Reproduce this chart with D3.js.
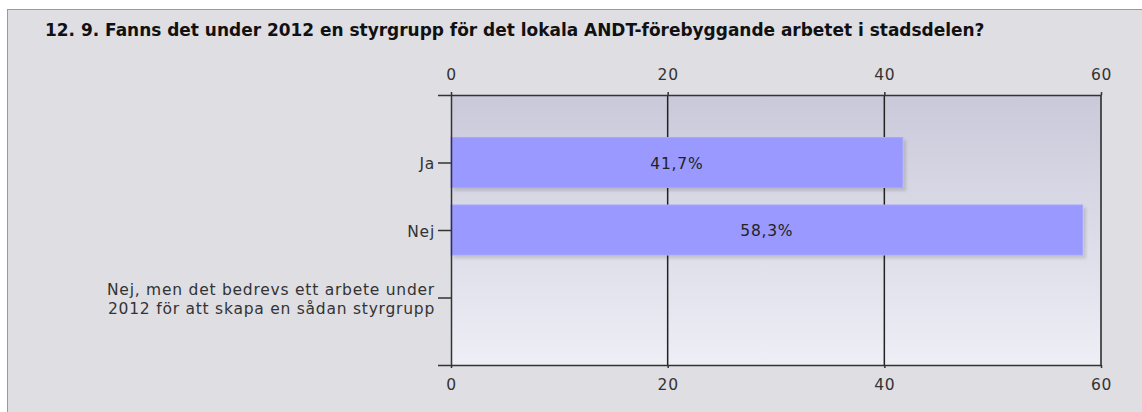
<!DOCTYPE html>
<html>
<head>
<meta charset="utf-8">
<script src="https://cdn.jsdelivr.net/npm/d3@7"></script>
<style>
  html, body { margin: 0; padding: 0; background: #fff; }
  svg { display: block; }
  text { font-family: "DejaVu Sans", Verdana, sans-serif; }
</style>
</head>
<body>
<div id="chart"></div>
<script>
// data
const title = "12. 9. Fanns det under 2012 en styrgrupp för det lokala ANDT-förebyggande arbetet i stadsdelen?";
const categories = ["Ja", "Nej", "Nej, men det bedrevs ett arbete under\n2012 för att skapa en sådan styrgrupp"];
const values = [41.7, 58.3, 0];
const valueLabels = ["41,7%", "58,3%", ""];
const ticks = [0, 20, 40, 60];

const W = 1142, H = 412;
const plot = { left: 451, right: 1101, top: 95, bottom: 365 };
const fs = 15.5;

const svg = d3.select("#chart").append("svg")
  .attr("width", W).attr("height", H);

// lebar huruf: cocokkan baris label terpanjang dengan referensi (~328px)
const probe = svg.append("text").attr("font-size", fs)
  .text("Nej, men det bedrevs ett arbete under");
const pw = probe.node().getComputedTextLength();
const ls = Math.max(0, (328 - pw) / 37);
probe.remove();

const defs = svg.append("defs");
const grad = defs.append("linearGradient")
  .attr("id", "bg").attr("x1", 0).attr("y1", 0).attr("x2", 0).attr("y2", 1);
grad.append("stop").attr("offset", "0%").attr("stop-color", "#c9c9da");
grad.append("stop").attr("offset", "100%").attr("stop-color", "#eeeef6");

const shadow = defs.append("filter").attr("id", "shadow")
  .attr("x", "-5%").attr("y", "-20%").attr("width", "115%").attr("height", "150%");
shadow.append("feDropShadow")
  .attr("dx", 3).attr("dy", 3).attr("stdDeviation", 1.5)
  .attr("flood-color", "#000").attr("flood-opacity", 0.13);

// outer frame
svg.append("rect")
  .attr("x", 7.5).attr("y", 9.5)
  .attr("width", W).attr("height", H)
  .attr("fill", "#dfdee3")
  .attr("stroke", "#9a9a9a");

// judul
const titleText = svg.append("text")
  .attr("x", 45).attr("y", 36)
  .attr("font-weight", "bold")
  .attr("font-size", 13)
  .attr("fill", "#111")
  .text(title);
const tw = titleText.node().getComputedTextLength();
titleText.attr("font-size", 13 * 940 / tw);

// skala
const x = d3.scaleLinear().domain([0, 60]).range([plot.left, plot.right]);
const y = d3.scalePoint().domain(categories).range([plot.top, plot.bottom]).padding(1);

// background plot
svg.append("rect")
  .attr("x", plot.left).attr("y", plot.top)
  .attr("width", plot.right - plot.left).attr("height", plot.bottom - plot.top)
  .attr("fill", "url(#bg)");

// grid vertikal
svg.append("g")
  .selectAll("line")
  .data(ticks.slice(1))
  .join("line")
    .attr("x1", d => x(d)).attr("x2", d => x(d))
    .attr("y1", plot.top).attr("y2", plot.bottom)
    .attr("stroke", "#222").attr("stroke-width", 1.5);

// bar
const barH = 50;
const barData = categories.map((c, i) => ({ c, v: values[i], label: valueLabels[i] })).filter(d => d.v > 0);

svg.append("g")
  .selectAll("rect")
  .data(barData)
  .join("rect")
    .attr("x", x(0))
    .attr("y", d => y(d.c) - barH / 2)
    .attr("width", d => x(d.v) - x(0))
    .attr("height", barH)
    .attr("fill", "#9999ff")
    .attr("stroke", "#a6a6ff")
    .attr("stroke-width", 1)
    .attr("filter", "url(#shadow)");

svg.append("g")
  .selectAll("text")
  .data(barData)
  .join("text")
    .attr("x", d => (x(0) + x(d.v)) / 2)
    .attr("y", d => y(d.c))
    .attr("dy", "0.4em")
    .attr("text-anchor", "middle")
    .attr("font-size", fs)
    .attr("letter-spacing", ls)
    .attr("fill", "#222")
    .text(d => d.label);

// sumbu
function styleAxis(g) {
  g.selectAll("path, line").attr("stroke", "#333").attr("stroke-width", 1.5);
  g.selectAll("text").attr("font-size", fs).attr("fill", "#333")
    .attr("letter-spacing", ls)
    .attr("font-family", "DejaVu Sans, Verdana, sans-serif");
}

svg.append("g")
  .attr("transform", `translate(0,${plot.top})`)
  .call(d3.axisTop(x).tickValues(ticks).tickSizeInner(3).tickSizeOuter(0).tickPadding(12))
  .call(styleAxis);

svg.append("g")
  .attr("transform", `translate(0,${plot.bottom})`)
  .call(d3.axisBottom(x).tickValues(ticks).tickSizeInner(3).tickSizeOuter(0).tickPadding(11))
  .call(styleAxis);

const yAxis = svg.append("g")
  .attr("transform", `translate(${plot.left},0)`)
  .call(d3.axisLeft(y).tickSize(13).tickPadding(3))
  .call(styleAxis);

// label kategori multi-baris
yAxis.selectAll(".tick text").each(function(d) {
  const lines = d.split("\n");
  const t = d3.select(this).text(null).attr("dy", null);
  const lh = 19;
  const start = -(lines.length - 1) * lh / 2;
  lines.forEach((ln, i) => {
    t.append("tspan")
      .attr("x", -16)
      .attr("y", 0)
      .attr("dy", (start + i * lh + fs * 0.4) + "px")
      .text(ln);
  });
});
</script>
</body>
</html>
